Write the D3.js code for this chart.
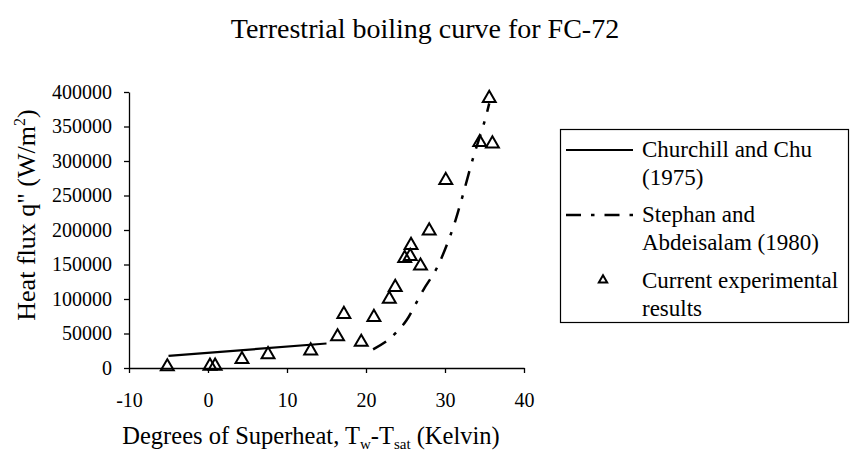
<!DOCTYPE html>
<html>
<head>
<meta charset="utf-8">
<script src="https://cdn.jsdelivr.net/npm/d3@7"></script>
<style>
  html, body { margin: 0; padding: 0; background: #fff; }
  svg { display: block; }
  text { font-family: "Liberation Serif", "Times New Roman", serif; fill: #000; }
</style>
</head>
<body>
<svg id="chart" width="850" height="452"></svg>
<script>
// ---- data ----
const xTicks = [-10, 0, 10, 20, 30, 40];
const yTicks = [0, 50000, 100000, 150000, 200000, 250000, 300000, 350000, 400000];

const churchillX = [-5, 15];
const churchillY = [17500, 35500];

const stephanX = [20.9, 22.8, 24.3, 25.15, 27.25, 28.95, 30.85, 31.9, 33.6, 35.05, 35.6];
const stephanY = [27000, 40600, 57500, 69500, 113000, 144500, 197500, 236000, 306000, 359000, 383500];

const expX = [-5.15, 0.25, 0.9, 4.3, 7.6, 13.0, 16.4, 17.2, 19.4, 21.0, 22.95, 23.7, 24.9, 25.6, 25.7, 26.9, 28.0, 30.1, 34.4, 36.0, 35.6];
const expY = [2000, 3000, 3000, 12500, 19500, 25000, 45500, 78000, 37500, 73500, 100000, 117000, 159000, 162000, 178000, 148000, 199000, 272000, 327000, 325000, 391000];

const legendLabels = [["Churchill and Chu", "(1975)"], ["Stephan and", "Abdeisalam (1980)"], ["Current experimental", "results"]];

// ---- chart ----
const FONT = "'Liberation Serif', 'Times New Roman', serif";
const svg = d3.select("#chart");
const x = d3.scaleLinear().domain([-10, 40]).range([129, 524]);
const y = d3.scaleLinear().domain([0, 400000]).range([368, 92]);

// title
svg.append("text").attr("x", 425).attr("y", 38).attr("text-anchor", "middle")
  .style("font-size", "28px").text("Terrestrial boiling curve for FC-72");

// axes
const xAxis = svg.append("g").attr("transform", `translate(0,${y(0)})`)
  .call(d3.axisBottom(x).tickValues(xTicks).tickSize(5).tickPadding(20).tickSizeOuter(0).tickFormat(d => String(d)));
const yAxis = svg.append("g").attr("transform", `translate(${x(-10)},0)`)
  .call(d3.axisLeft(y).tickValues(yTicks).tickSize(5).tickPadding(12).tickSizeOuter(0).tickFormat(d => String(d)));
[xAxis, yAxis].forEach(g => {
  g.attr("font-family", FONT).attr("font-size", 20);
  g.select(".domain").attr("stroke", "#000").attr("stroke-width", 1.3);
  g.selectAll(".tick line").attr("stroke", "#000").attr("stroke-width", 1.3);
  g.selectAll(".tick text").attr("fill", "#000").style("font-family", FONT).style("font-size", "20px");
});

// axis titles
const xt = svg.append("text").attr("x", 311).attr("y", 444).attr("text-anchor", "middle").style("font-size", "24.5px");
xt.append("tspan").text("Degrees of Superheat, T");
xt.append("tspan").attr("dy", 5).style("font-size", "15px").text("w");
xt.append("tspan").attr("dy", -5).text("-T");
xt.append("tspan").attr("dy", 5).style("font-size", "15px").text("sat");
xt.append("tspan").attr("dy", -5).text(" (Kelvin)");

const yt = svg.append("text").attr("transform", "translate(35,215) rotate(-90)").attr("text-anchor", "middle").style("font-size", "26px");
yt.append("tspan").text("Heat flux q\" (W/m");
yt.append("tspan").attr("dy", -10).style("font-size", "16px").text("2");
yt.append("tspan").attr("dy", 10).text(")");

// lines
const line = d3.line().x(d => x(d[0])).y(d => y(d[1]));
svg.append("path").datum(churchillX.map((v, i) => [v, churchillY[i]]))
  .attr("d", line).attr("fill", "none").attr("stroke", "#000").attr("stroke-width", 2.2);
svg.append("path").datum(stephanX.map((v, i) => [v, stephanY[i]]))
  .attr("d", d3.line().x(d => x(d[0])).y(d => y(d[1])).curve(d3.curveCatmullRom))
  .attr("fill", "none").attr("stroke", "#000").attr("stroke-width", 2.5)
  .attr("stroke-dasharray", "15,10,3.5,10");

// markers
const tri = d3.symbol().type(d3.symbolTriangle).size(72);
svg.append("g").selectAll("path").data(expX.map((v, i) => [v, expY[i]])).join("path")
  .attr("d", tri).attr("transform", d => `translate(${x(d[0])},${y(d[1])})`)
  .attr("fill", "none").attr("stroke", "#000").attr("stroke-width", 2);

// legend
const lg = svg.append("g");
lg.append("rect").attr("x", 560.5).attr("y", 129.5).attr("width", 288).attr("height", 193)
  .attr("fill", "#fff").attr("stroke", "#000").attr("stroke-width", 1.2);
const rowsY = [157, 222, 288];
lg.append("line").attr("x1", 566).attr("x2", 633).attr("y1", 150).attr("y2", 150).attr("stroke", "#000").attr("stroke-width", 2.2);
lg.append("line").attr("x1", 566).attr("x2", 635).attr("y1", 215).attr("y2", 215).attr("stroke", "#000").attr("stroke-width", 2.5).attr("stroke-dasharray", "15,10,3.5,10");
lg.append("path").attr("d", d3.symbol().type(d3.symbolTriangle).size(30)).attr("transform", "translate(603,280)")
  .attr("fill", "none").attr("stroke", "#000").attr("stroke-width", 2);
legendLabels.forEach((lab, i) => {
  const t = lg.append("text").attr("x", 642).attr("y", rowsY[i]).style("font-size", "23px");
  t.append("tspan").attr("x", 642).text(lab[0]);
  t.append("tspan").attr("x", 642).attr("dy", 28).text(lab[1]);
});
</script>
</body>
</html>
